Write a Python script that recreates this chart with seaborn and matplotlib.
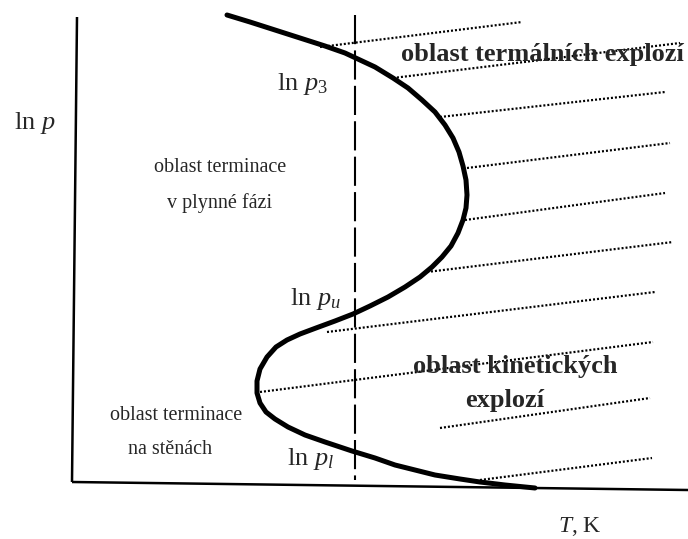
import matplotlib
matplotlib.use("Agg")
import matplotlib.pyplot as plt
import seaborn as sns
import pandas as pd

# Explosion-limit curve (temperature vs. ln p), drawing units
curve_T = [227, 250, 275, 300, 325, 345, 360, 375, 393, 408, 422, 435, 445,
           453, 459, 463, 466, 467, 466, 463, 458, 451, 442, 432, 420, 405,
           388, 370, 353, 335, 316, 300, 287, 276, 267, 260, 257, 257, 260,
           266, 275, 288, 305, 325, 352, 375, 395, 415, 435, 460, 480, 505, 535]
curve_lnp = [15, 22, 30, 38, 46, 53, 60, 67, 78, 88, 100, 112, 125,
             138, 152, 166, 180, 195, 208, 220, 233, 246, 257, 267, 277, 287,
             297, 306, 314, 321, 328, 334, 340, 347, 357, 369, 381, 393, 403,
             412, 419, 427, 435, 442, 451, 458, 465, 470, 475, 479, 482, 485, 488]

# Hatching of the explosion region (start / end of each dotted stroke)
hatch_x0 = [320, 393, 440, 467, 465, 427, 327, 260, 440, 480]
hatch_y0 = [47, 78, 117, 168, 220, 272, 332, 392, 428, 480]
hatch_x1 = [522, 680, 665, 670, 665, 673, 655, 653, 650, 652]
hatch_y1 = [22, 43, 92, 143, 193, 242, 292, 342, 398, 458]

# Reference temperature (vertical dashed line)
T_ref = 355

sns.set_theme(style="white")
plt.rcParams["font.family"] = ["Liberation Serif", "DejaVu Serif"]
plt.rcParams["mathtext.fontset"] = "custom"
plt.rcParams["mathtext.rm"] = "Liberation Serif"
plt.rcParams["mathtext.it"] = "Liberation Serif:italic"
plt.rcParams["mathtext.bf"] = "Liberation Serif:bold"

fig = plt.figure(figsize=(6.88, 5.39), dpi=100)
ax = fig.add_axes([0, 0, 1, 1])

# axes of the diagram
ax.plot([77, 72], [17, 482], color="black", lw=1.8, solid_capstyle="butt")
ax.plot([72, 688], [482, 490], color="black", lw=1.8, solid_capstyle="butt")

# dotted hatching
for x0, y0, x1, y1 in zip(hatch_x0, hatch_y0, hatch_x1, hatch_y1):
    ax.plot([x0, x1], [y0, y1], color="black", lw=1.6,
            dashes=[0.9, 0.9], dash_capstyle="butt", zorder=2)

# dashed vertical line
ax.plot([T_ref, T_ref], [15, 480], color="black", lw=1.5,
        dashes=[14, 3], zorder=3)

# limit curve
df = pd.DataFrame({"T": curve_T, "lnp": curve_lnp})
sns.lineplot(data=df, x="T", y="lnp", sort=False, estimator=None, ax=ax,
             color="black", lw=3.6, zorder=4,
             solid_joinstyle="round", solid_capstyle="round")
ax.set_xlim(0, 688)
ax.set_ylim(539, 0)
ax.axis("off")

fs = 14.5
lab = 19
ax.text(35, 123, r"ln $p$", fontsize=lab, ha="center", va="center")
ax.text(580, 527, r"$T$, K", fontsize=17, ha="center", va="center")
ax.text(302, 84, r"ln $p_{\mathrm{3}}$", fontsize=lab, ha="center", va="center")
ax.text(315, 299, r"ln $p_{u}$", fontsize=lab, ha="center", va="center")
ax.text(311, 459, r"ln $p_{l}$", fontsize=lab, ha="center", va="center")

ax.text(220, 167, "oblast terminace", fontsize=fs, ha="center", va="center")
ax.text(220, 203, "v plynné fázi", fontsize=fs, ha="center", va="center")
ax.text(176, 415, "oblast terminace", fontsize=fs, ha="center", va="center")
ax.text(170, 450, "na stěnách", fontsize=fs, ha="center", va="center")

bfs = 19
ax.text(542, 55, "oblast termálních explozí", fontsize=bfs, fontweight="bold",
        ha="center", va="center", zorder=5)
ax.text(515, 366, "oblast kinetických", fontsize=bfs, fontweight="bold",
        ha="center", va="center", zorder=5)
ax.text(505, 401, "explozí", fontsize=bfs, fontweight="bold",
        ha="center", va="center", zorder=5)

fig.savefig("out.png", dpi=100, facecolor="white")
